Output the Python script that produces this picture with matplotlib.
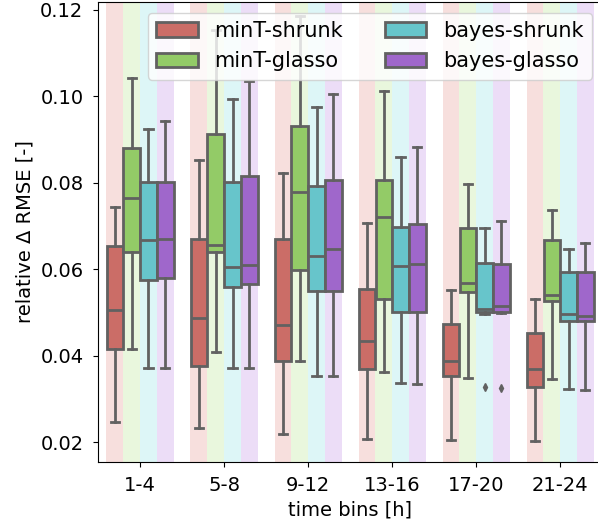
import matplotlib.pyplot as plt
import seaborn as sns
from matplotlib.patches import Patch

time_bins = ["1-4", "5-8", "9-12", "13-16", "17-20", "21-24"]
methods = ["minT-shrunk", "minT-glasso", "bayes-shrunk", "bayes-glasso"]

# five-number summaries per time bin: whisker low, q1, median, q3, whisker high
minT_shrunk = [
    [0.0248, 0.0415, 0.0506, 0.0653, 0.0745],
    [0.0234, 0.0377, 0.0487, 0.0670, 0.0853],
    [0.0219, 0.0387, 0.0472, 0.0670, 0.0822],
    [0.0207, 0.0369, 0.0434, 0.0555, 0.0707],
    [0.0206, 0.0354, 0.0387, 0.0473, 0.0553],
    [0.0202, 0.0327, 0.0369, 0.0452, 0.0532],
]
minT_glasso = [
    [0.0415, 0.0641, 0.0765, 0.0880, 0.1042],
    [0.0410, 0.0641, 0.0657, 0.0913, 0.1154],
    [0.0389, 0.0599, 0.0778, 0.0932, 0.1185],
    [0.0363, 0.0532, 0.0722, 0.0807, 0.1013],
    [0.0348, 0.0547, 0.0568, 0.0695, 0.0798],
    [0.0347, 0.0527, 0.0540, 0.0668, 0.0738],
]
bayes_shrunk = [
    [0.0373, 0.0576, 0.0667, 0.0801, 0.0924],
    [0.0373, 0.0560, 0.0605, 0.0801, 0.0993],
    [0.0354, 0.0550, 0.0632, 0.0793, 0.0975],
    [0.0337, 0.0501, 0.0608, 0.0697, 0.0859],
    [0.0497, 0.0501, 0.0508, 0.0614, 0.0695],
    [0.0324, 0.0481, 0.0496, 0.0593, 0.0647],
]
bayes_glasso = [
    [0.0373, 0.0580, 0.0670, 0.0803, 0.0943],
    [0.0372, 0.0566, 0.0609, 0.0816, 0.1036],
    [0.0354, 0.0550, 0.0647, 0.0807, 0.1005],
    [0.0335, 0.0501, 0.0612, 0.0704, 0.0883],
    [0.0499, 0.0501, 0.0516, 0.0612, 0.0712],
    [0.0321, 0.0481, 0.0493, 0.0593, 0.0661],
]
# outliers: (method index, time bin index, value)
fliers = [(2, 4, 0.0329), (3, 4, 0.0325)]

series = [minT_shrunk, minT_glasso, bayes_shrunk, bayes_glasso]
base = sns.color_palette("hls", 4)
colors = [sns.desaturate(c, 0.75) for c in base]
gray = "#616161"

plt.rcParams["font.size"] = 14
fig = plt.figure(figsize=(5.98, 5.29), dpi=100)
ax = fig.add_axes([0.164, 0.127, 0.843, 0.869])

n = len(methods)
slot = 0.8 / n
for j, (summ, col) in enumerate(zip(series, colors)):
    stats = []
    positions = []
    for i, s in enumerate(summ):
        pos = i - 0.4 + slot * (j + 0.5)
        fl = [v for (m, t, v) in fliers if m == j and t == i]
        stats.append(dict(whislo=s[0], q1=s[1], med=s[2], q3=s[3], whishi=s[4], fliers=fl))
        positions.append(pos)
        ax.axvspan(pos - slot / 2, pos + slot / 2, color=base[j], alpha=0.2, lw=0, zorder=0)
    ax.bxp(stats, positions=positions, widths=slot * 0.98, patch_artist=True,
           boxprops=dict(facecolor=col, edgecolor=gray, linewidth=2),
           medianprops=dict(color=gray, linewidth=2),
           whiskerprops=dict(color=gray, linewidth=2),
           capprops=dict(color=gray, linewidth=2),
           flierprops=dict(marker="d", markersize=4, markerfacecolor=gray,
                           markeredgecolor=gray),
           manage_ticks=False)

ax.set_xticks(range(len(time_bins)))
ax.set_xticklabels(time_bins)
ax.set_xlim(-0.5, 5.5)
ax.set_ylim(0.0155, 0.1218)
ax.set_yticks([0.02, 0.04, 0.06, 0.08, 0.10, 0.12])
ax.yaxis.set_major_formatter(plt.FormatStrFormatter("%.2f"))
ax.tick_params(axis="both", pad=7)
ax.set_xlabel("time bins [h]")
ax.set_ylabel("relative Δ RMSE [-]")

handles = [Patch(facecolor=c, edgecolor=gray, linewidth=2) for c in colors]
ax.legend(handles, methods, ncol=2, loc="upper right", fontsize=15,
          handlelength=2, columnspacing=2.0, borderaxespad=0.5)

fig.savefig("out.png", dpi=100)
